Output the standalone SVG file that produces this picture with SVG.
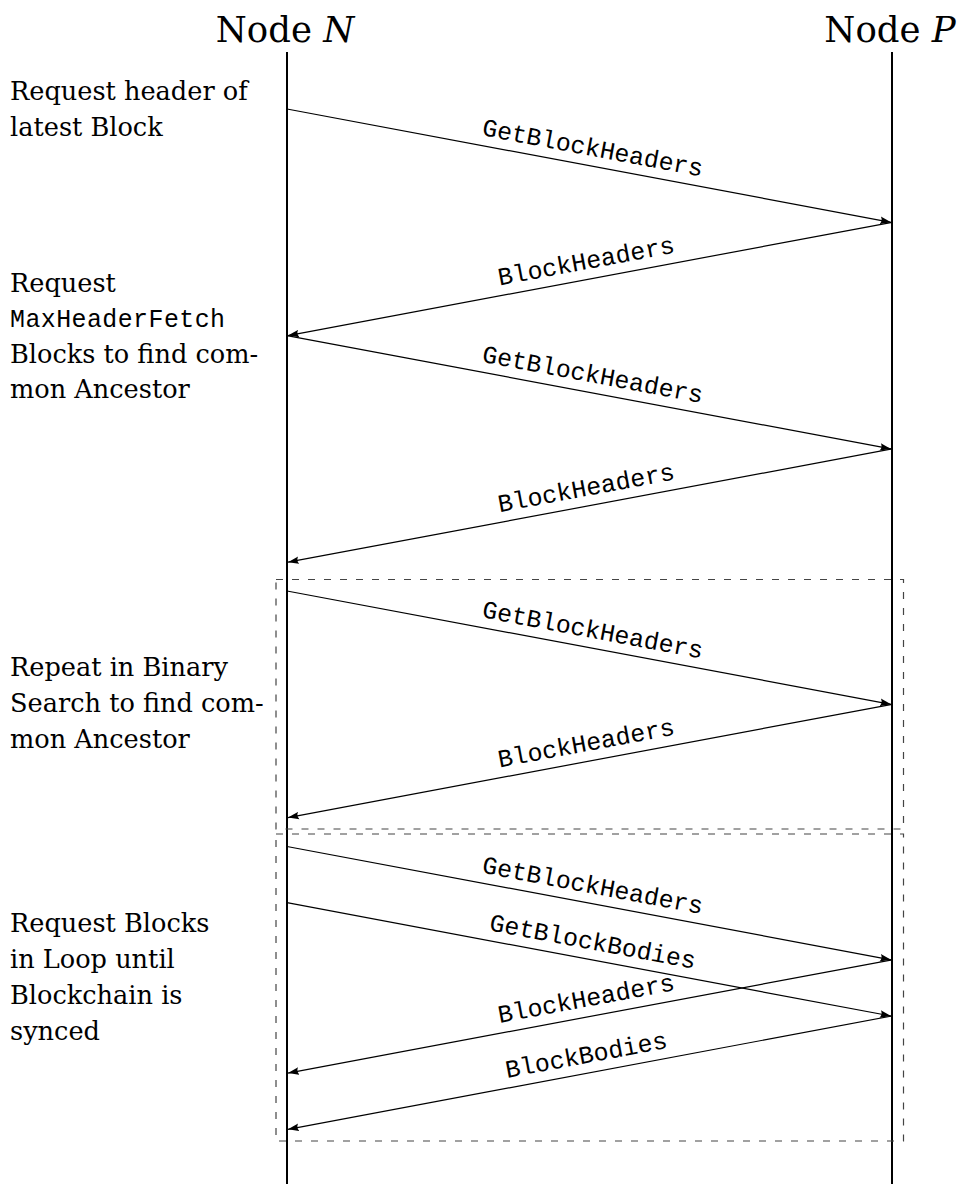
<svg xmlns="http://www.w3.org/2000/svg" width="958" height="1184" viewBox="0 0 958 1184">
<style>
.hdr{font-family:"DejaVu Serif","Liberation Serif",serif;font-size:35.5px;fill:#000}
.note{font-family:"DejaVu Serif","Liberation Serif",serif;font-size:25.6px;fill:#000}
.mono{font-family:"Liberation Mono","DejaVu Sans Mono",monospace;font-size:24.9px;fill:#000}
.life{stroke:#000;stroke-width:2;fill:none}
.msg{stroke:#000;stroke-width:1.2;fill:none;marker-end:url(#ah)}
.box{stroke:#444;stroke-width:1.2;fill:none;stroke-dasharray:7 9}
</style>
<defs>
<marker id="ah" viewBox="0 0 11 8" markerWidth="11" markerHeight="8" refX="11" refY="4" orient="auto" markerUnits="userSpaceOnUse">
<path d="M0,0.2 L11,4 L0,7.8 Q2.8,4 0,0.2 z" fill="#000"/>
</marker>
</defs>
<rect width="958" height="1184" fill="#fff"/>

<g id="nodeN">
<text class="hdr" x="285" y="42" text-anchor="middle">Node <tspan font-style="italic">N</tspan></text>
<line class="life" x1="287" y1="52" x2="287" y2="1184"/>
</g>
<g id="nodeP">
<text class="hdr" x="890" y="42" text-anchor="middle">Node <tspan font-style="italic">P</tspan></text>
<line class="life" x1="892" y1="52" x2="892" y2="1184"/>
</g>

<g id="loop-binary">
<rect class="box" x="276" y="579.5" width="627.5" height="249.5"/>
</g>
<g id="loop-sync">
<rect class="box" x="276" y="834" width="627.5" height="307"/>
</g>

<g id="note1">
<text class="note" x="10" y="100">Request header of</text>
<text class="note" x="10" y="136">latest Block</text>
</g>
<g id="note2">
<text class="note" x="10" y="292">Request</text>
<text class="mono" x="10" y="327" textLength="215" lengthAdjust="spacing">MaxHeaderFetch</text>
<text class="note" x="10" y="363">Blocks to find com-</text>
<text class="note" x="10" y="398">mon Ancestor</text>
</g>
<g id="note3">
<text class="note" x="10" y="676">Repeat in Binary</text>
<text class="note" x="10" y="712">Search to find com-</text>
<text class="note" x="10" y="748">mon Ancestor</text>
</g>
<g id="note4">
<text class="note" x="10" y="932">Request Blocks</text>
<text class="note" x="10" y="968">in Loop until</text>
<text class="note" x="10" y="1004">Blockchain is</text>
<text class="note" x="10" y="1040">synced</text>
</g>

<g id="connectors">
<line class="msg" x1="287" y1="109" x2="891" y2="222.3"/>
<line class="msg" x1="892" y1="222.3" x2="288" y2="335.6"/>
<line class="msg" x1="287" y1="335.6" x2="891" y2="448.9"/>
<line class="msg" x1="892" y1="448.9" x2="288" y2="562.2"/>
<line class="msg" x1="287" y1="591" x2="891" y2="704.3"/>
<line class="msg" x1="892" y1="704.3" x2="288" y2="817.6"/>
<line class="msg" x1="287" y1="846.5" x2="891" y2="959.8"/>
<line class="msg" x1="287" y1="902.7" x2="891" y2="1016"/>
<line class="msg" x1="892" y1="959.8" x2="288" y2="1073.1"/>
<line class="msg" x1="892" y1="1016" x2="288" y2="1129.3"/>

<text class="mono" text-anchor="middle" x="0" y="-10" transform="translate(589.5 165.6) rotate(10.62)">GetBlockHeaders</text>
<text class="mono" text-anchor="middle" x="0" y="-10" transform="translate(589.5 278.9) rotate(-10.62)">BlockHeaders</text>
<text class="mono" text-anchor="middle" x="0" y="-10" transform="translate(589.5 392.2) rotate(10.62)">GetBlockHeaders</text>
<text class="mono" text-anchor="middle" x="0" y="-10" transform="translate(589.5 505.5) rotate(-10.62)">BlockHeaders</text>
<text class="mono" text-anchor="middle" x="0" y="-10" transform="translate(589.5 647.6) rotate(10.62)">GetBlockHeaders</text>
<text class="mono" text-anchor="middle" x="0" y="-10" transform="translate(589.5 760.9) rotate(-10.62)">BlockHeaders</text>
<text class="mono" text-anchor="middle" x="0" y="-10" transform="translate(589.5 903.1) rotate(10.62)">GetBlockHeaders</text>
<text class="mono" text-anchor="middle" x="0" y="-10" transform="translate(589.5 959.3) rotate(10.62)">GetBlockBodies</text>
<text class="mono" text-anchor="middle" x="0" y="-10" transform="translate(589.5 1016.4) rotate(-10.62)">BlockHeaders</text>
<text class="mono" text-anchor="middle" x="0" y="-10" transform="translate(589.5 1072.6) rotate(-10.62)">BlockBodies</text>
</g>
</svg>
